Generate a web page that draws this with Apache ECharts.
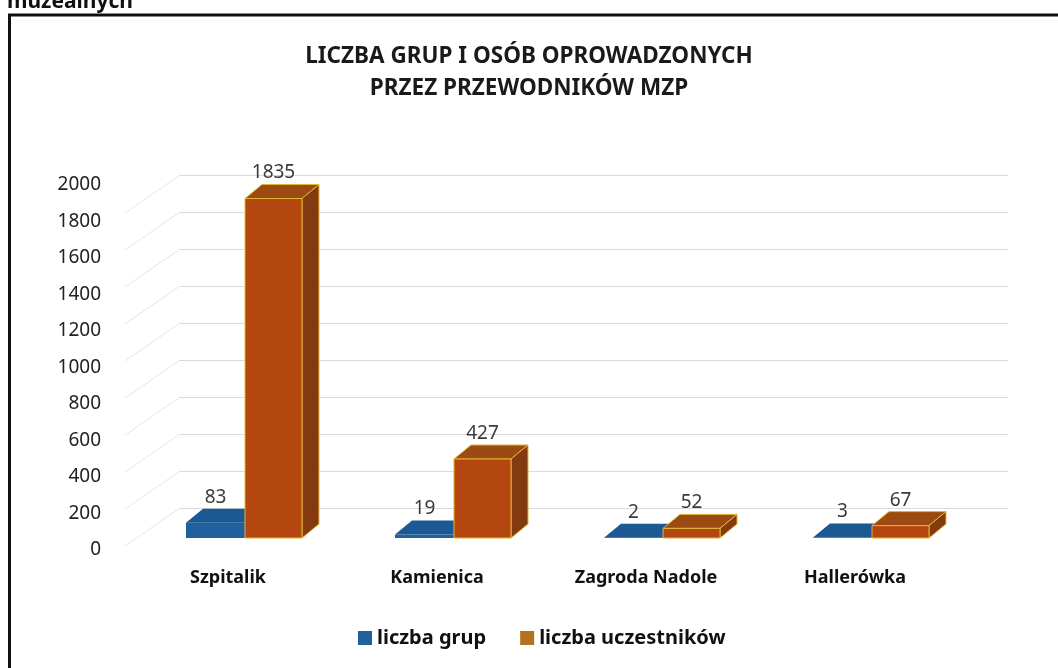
<!DOCTYPE html>
<html>
<head>
<meta charset="utf-8">
<script src="https://cdn.jsdelivr.net/npm/echarts@6/dist/echarts.min.js"></script>
<style>
html,body{margin:0;padding:0;background:#fff;}
#main{width:1058px;height:668px;}
</style>
</head>
<body>
<div id="main"></div>
<script>
//---------dane-------
var categories = ['Szpitalik', 'Kamienica', 'Zagroda Nadole', 'Hallerówka'];
var groups = [83, 19, 2, 3];
var participants = [1835, 427, 52, 67];
var seriesNames = ['liczba grup', 'liczba uczestników'];
var wallTicks = [200, 400, 600, 800, 1000, 1200, 1400, 1600, 1800, 2000];

var FONT = 'Noto Sans';
var DX = 17, DY = 14;   // glebokosc slupka 3D

// slupek 3D: przod, gora, bok (bok tylko dla prawego)
function bar3d(side, front, top, sideColor, edge) {
	return function (params, api) {
		var i = api.value(0), v = api.value(1);
		var t = api.coord([i, v]);
		var b = api.coord([i, 0]);
		var x0 = side === 'left' ? t[0] - 59 : t[0];
		var x1 = side === 'left' ? t[0] : t[0] + 57;
		var ty = t[1], by = b[1];
		var children = [];
		children.push({
			type: 'polygon',
			shape: {points: [[x0, ty], [x1, ty], [x1 + DX, ty - DY], [x0 + DX, ty - DY]]},
			style: {fill: top, stroke: edge, lineWidth: edge ? 1 : 0}
		});
		if (sideColor) {
			children.push({
				type: 'polygon',
				shape: {points: [[x1, ty], [x1 + DX, ty - DY], [x1 + DX, by - DY], [x1, by]]},
				style: {fill: sideColor, stroke: edge, lineWidth: edge ? 1 : 0}
			});
		}
		children.push({
			type: 'rect',
			shape: {x: x0, y: ty, width: x1 - x0, height: by - ty},
			style: {fill: front, stroke: edge, lineWidth: edge ? 1 : 0}
		});
		children.push({
			type: 'text',
			style: {
				x: (x0 + x1) / 2, y: ty - DY - 2, text: String(v),
				align: 'center', verticalAlign: 'bottom',
				fill: '#3a3a3a', fontSize: 19, fontFamily: FONT
			}
		});
		return {type: 'group', children: children};
	};
}

var option = {
	backgroundColor: '#fff',
	animation: false,
	title: {
		text: 'LICZBA GRUP I OSÓB OPROWADZONYCH\nPRZEZ PRZEWODNIKÓW MZP',
		left: 'center',
		top: 36,
		textStyle: {fontFamily: FONT, fontSize: 22.5, fontWeight: 'bold', color: '#1a1a1a', lineHeight: 32}
	},
	legend: {
		data: seriesNames,
		left: 358,
		top: 628,
		padding: 0,
		icon: 'rect',
		itemWidth: 14,
		itemHeight: 14,
		itemGap: 34,
		textStyle: {fontFamily: FONT, fontSize: 20, fontWeight: 'bold', color: '#111'}
	},
	graphic: [
		{type: 'rect', shape: {x: 9.5, y: 15, width: 1200, height: 800}, style: {fill: 'none', stroke: '#111', lineWidth: 3}},
		{type: 'text', left: 7, top: -8, style: {text: 'muzealnych', fontFamily: FONT, fontSize: 21, fontWeight: 'bold', fill: '#111'}}
	],
	grid: [
		{left: 180, right: 50, top: 175, bottom: 160},   // tylna sciana z liniami
		{left: 108, right: 900, top: 185, bottom: 118},  // etykiety osi Y
		{left: 140.5, right: 81.5, top: 168, bottom: 130} // slupki
	],
	xAxis: [
		{gridIndex: 0, type: 'value', min: 0, max: 1, show: false},
		{gridIndex: 1, type: 'value', min: 0, max: 1, show: false},
		{
			gridIndex: 2, type: 'category', data: categories,
			axisLine: {show: false}, axisTick: {show: false},
			axisLabel: {fontFamily: FONT, fontSize: 18, fontWeight: 'bold', color: '#111', margin: 31, padding: [0, 34, 0, 0]}
		}
	],
	yAxis: [
		{
			gridIndex: 0, type: 'value', min: 200, max: 2000, interval: 200,
			axisLine: {show: false}, axisTick: {show: false}, axisLabel: {show: false},
			splitLine: {lineStyle: {color: '#dadada', width: 1}}
		},
		{
			gridIndex: 1, type: 'value', min: 0, max: 2000, interval: 200,
			axisLine: {show: false}, axisTick: {show: false}, splitLine: {show: false},
			axisLabel: {fontFamily: FONT, fontSize: 19, color: '#222', margin: 7, formatter: function (v) { return String(v); }}
		},
		{gridIndex: 2, type: 'value', min: 0, max: 2000, show: false}
	],
	series: [
		{
			// ukosne linie bocznej sciany
			type: 'custom', xAxisIndex: 0, yAxisIndex: 0, silent: true,
			data: wallTicks.map(function (t) { return [0, t]; }),
			renderItem: function (params, api) {
				var p = api.coord([0, api.value(1)]);
				return {type: 'line', shape: {x1: p[0], y1: p[1], x2: p[0] - 55, y2: p[1] + 38}, style: {stroke: '#e6e6e6', lineWidth: 1}};
			}
		},
		{
			name: seriesNames[0], type: 'custom', xAxisIndex: 2, yAxisIndex: 2,
			itemStyle: {color: '#1f609d'},
			data: groups.map(function (v, i) { return [i, v]; }),
			renderItem: bar3d('left', '#1f609d', '#1c5893', null, null)
		},
		{
			name: seriesNames[1], type: 'custom', xAxisIndex: 2, yAxisIndex: 2,
			itemStyle: {color: '#b5711f'},
			data: participants.map(function (v, i) { return [i, v]; }),
			renderItem: bar3d('right', '#b4460f', '#9b4a12', '#823a0e', '#e2b535')
		}
	]
};

var myChart = echarts.init(document.getElementById('main'));
myChart.setOption(option);
</script>
</body>
</html>
